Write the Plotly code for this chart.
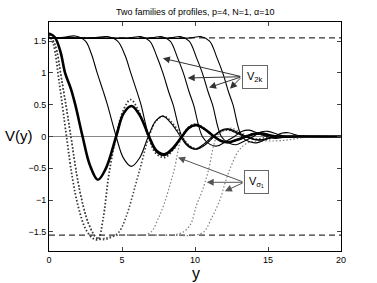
import plotly.graph_objects as go

# ---------------- data ----------------
PLATEAU = 1.55
X_RANGE = [0, 20]

# thick solid profile (V_0)
s0_x = [0, 0.4, 0.8, 1.1, 1.5, 1.8, 2.3, 2.8, 3.35, 3.9, 4.6, 5.1, 5.65, 6.2, 6.85, 7.35, 7.9, 8.5, 9.1, 9.6,
        10.1, 10.7, 11.3, 11.8, 12.3, 12.9, 13.5, 14.0, 14.5, 15.1, 15.7, 17, 20]
s0_v = [1.62, 1.56, 1.32, 1.0, 0.75, 0.5, 0.0, -0.45, -0.68, -0.5, 0.0, 0.36, 0.48, 0.34, 0.0, -0.22, -0.28, -0.18, 0.0, 0.14,
        0.18, 0.11, 0.0, -0.07, -0.09, -0.05, 0.0, 0.04, 0.05, 0.02, 0.0, 0.0, 0.0]

# thin solid profiles V_2k
sA_x = [0, 1.0, 1.8, 2.5, 2.9, 3.3, 3.7, 4.0, 4.6, 5.1, 5.65, 6.2, 6.8, 7.3, 7.8, 8.4, 9.0, 9.5, 10.0, 10.6,
        11.2, 11.7, 12.2, 12.8, 13.4, 13.9, 14.4, 15.0, 15.6, 17, 20]
sA_v = [1.55, 1.56, 1.58, 1.5, 1.3, 1.0, 0.72, 0.5, 0.0, -0.34, -0.47, -0.34, 0.0, 0.24, 0.32, 0.2, 0.0, -0.15, -0.2, -0.12,
        0.0, 0.08, 0.11, 0.06, 0.0, -0.04, -0.06, -0.03, 0.0, 0.0, 0.0]

sB_x = [0, 3.0, 4.0, 4.7, 5.2, 5.6, 6.0, 6.3, 6.85, 7.35, 7.9, 8.5, 9.1, 9.6, 10.1, 10.7, 11.3, 11.8, 12.3, 12.9,
        13.5, 14.0, 14.5, 15.2, 16, 20]
sB_v = [1.55, 1.55, 1.57, 1.5, 1.28, 1.0, 0.72, 0.5, 0.0, -0.24, -0.3, -0.2, 0.0, 0.13, 0.17, 0.1, 0.0, -0.07, -0.09, -0.05,
        0.0, 0.03, 0.04, 0.02, 0.0, 0.0]

sC_x = [0, 5.5, 6.3, 6.9, 7.4, 7.8, 8.2, 8.5, 9.1, 9.6, 10.1, 10.7, 11.3, 11.8, 12.3, 12.9, 13.5, 14.0, 14.5, 15.2, 16, 20]
sC_v = [1.55, 1.55, 1.57, 1.5, 1.25, 1.0, 0.7, 0.5, 0.0, -0.15, -0.2, -0.13, 0.0, 0.1, 0.12, 0.07, 0.0, -0.04, -0.05, -0.02, 0.0, 0.0]

sD_x = [0, 7.0, 7.7, 8.3, 8.8, 9.2, 9.6, 9.9, 10.5, 11.0, 11.5, 12.1, 12.7, 13.2, 13.7, 14.3, 14.9, 15.5, 16.2, 17, 20]
sD_v = [1.55, 1.55, 1.57, 1.5, 1.24, 1.0, 0.7, 0.5, 0.0, -0.12, -0.15, -0.08, 0.0, 0.08, 0.1, 0.05, 0.0, -0.03, -0.01, 0.0, 0.0]

sE_x = [0, 8.3, 9.0, 9.6, 10.1, 10.5, 10.9, 11.2, 11.8, 12.3, 12.8, 13.4, 14.0, 14.5, 15.0, 15.6, 16.2, 17, 20]
sE_v = [1.55, 1.55, 1.57, 1.5, 1.24, 1.0, 0.7, 0.5, 0.0, -0.1, -0.13, -0.07, 0.0, 0.07, 0.08, 0.04, 0.0, 0.0, 0.0]

sF_x = [0, 9.7, 10.4, 11.0, 11.5, 11.9, 12.3, 12.6, 13.2, 13.7, 14.2, 14.8, 15.4, 15.9, 16.4, 17.0, 18, 20]
sF_v = [1.55, 1.55, 1.57, 1.5, 1.24, 1.0, 0.7, 0.5, 0.0, -0.08, -0.1, -0.05, 0.0, 0.05, 0.06, 0.02, 0.0, 0.0]

# dotted profiles V_sigma
d0_x = [0, 0.3, 0.7, 1.2, 1.6, 2.0, 2.5, 3.0, 3.35, 3.7, 4.1, 4.6, 5.1, 5.6, 6.1, 6.8, 7.3, 7.9, 8.5, 9.1,
        9.6, 10.1, 10.7, 11.3, 11.8, 12.3, 12.9, 13.5, 14.2, 15, 16, 20]
d0_v = [1.6, 1.45, 0.85, 0.0, -0.65, -1.1, -1.45, -1.6, -1.62, -1.3, -0.6, 0.0, 0.42, 0.58, 0.42, 0.0, -0.26, -0.33, -0.21, 0.0,
        0.15, 0.19, 0.11, 0.0, -0.07, -0.09, -0.05, 0.0, 0.04, 0.01, 0.0, 0.0]

d1_x = [0, 0.4, 0.9, 1.5, 1.9, 2.3, 2.8, 3.3, 3.8, 4.3, 4.8, 5.3, 5.7, 6.0, 6.3, 6.85, 7.35, 7.9, 8.5, 9.1,
        9.6, 10.1, 10.7, 11.3, 11.8, 12.3, 12.9, 13.5, 14.2, 15, 16, 20]
d1_v = [1.6, 1.45, 0.85, 0.0, -0.6, -1.05, -1.42, -1.6, -1.62, -1.58, -1.5, -1.25, -0.95, -0.7, -0.45, 0.0, 0.25, 0.32, 0.2, 0.0,
        -0.14, -0.19, -0.12, 0.0, 0.08, 0.1, 0.05, 0.0, -0.04, -0.01, 0.0, 0.0]

d2_x = [0, 0.4, 0.9, 1.5, 1.9, 2.3, 2.8, 3.3, 3.8, 4.5, 5.5, 6.5, 7.0, 7.5, 7.9, 8.3, 8.6, 9.1, 9.6, 10.1,
        10.7, 11.3, 11.8, 12.3, 12.9, 13.5, 14.1, 14.8, 15.5, 16.5, 20]
d2_v = [1.6, 1.45, 0.85, 0.0, -0.6, -1.05, -1.42, -1.6, -1.6, -1.56, -1.55, -1.55, -1.5, -1.28, -1.05, -0.75, -0.5, 0.0, 0.16, 0.2,
        0.12, 0.0, -0.08, -0.1, -0.05, 0.0, 0.04, 0.04, 0.0, 0.0, 0.0]

d3_x = [0, 0.4, 0.9, 1.5, 1.9, 2.3, 2.8, 3.3, 3.8, 4.5, 6, 8, 8.7, 9.2, 9.7, 10.1, 10.5, 10.9, 11.5, 12.0,
        12.5, 13.1, 13.7, 14.2, 14.7, 15.3, 16, 17, 20]
d3_v = [1.6, 1.45, 0.85, 0.0, -0.6, -1.05, -1.42, -1.6, -1.6, -1.56, -1.55, -1.55, -1.54, -1.5, -1.38, -1.08, -0.85, -0.55, 0.0, 0.1,
        0.13, 0.07, 0.0, -0.05, -0.06, -0.03, 0.0, 0.0, 0.0]

d4_x = [0, 0.4, 0.9, 1.5, 1.9, 2.3, 2.8, 3.3, 3.8, 4.5, 6, 8, 10, 10.6, 11.1, 11.7, 12.1, 12.5, 13.0, 13.6,
        14.3, 15.5, 16.5, 17.3, 18, 20]
d4_v = [1.6, 1.45, 0.85, 0.0, -0.6, -1.05, -1.42, -1.6, -1.6, -1.56, -1.55, -1.55, -1.55, -1.5, -1.3, -1.0, -0.7, -0.45, -0.22, -0.1,
        -0.07, -0.07, -0.05, -0.02, 0.0, 0.0]

x_ticks = [0, 5, 10, 15, 20]
y_ticks = [-1.5, -1, -0.5, 0, 0.5, 1, 1.5]
y_tick_labels = ["\u22121.5", "\u22121", "\u22120.5", "0", "0.5", "1", "1.5"]

title_text = "Two families of profiles, p=4, N=1, \u03b1=10"

# ---------------- figure ----------------
FONT = "Liberation Sans, Arial, sans-serif"
fig = go.Figure()

# dashed asymptotes and zero line
fig.add_trace(go.Scatter(x=X_RANGE, y=[PLATEAU, PLATEAU], mode="lines",
                         line=dict(color="black", width=1, dash="6px,4px"), hoverinfo="skip"))
fig.add_trace(go.Scatter(x=X_RANGE, y=[-PLATEAU, -PLATEAU], mode="lines",
                         line=dict(color="black", width=1, dash="6px,4px"), hoverinfo="skip"))
fig.add_trace(go.Scatter(x=X_RANGE, y=[0, 0], mode="lines",
                         line=dict(color="#888888", width=1), hoverinfo="skip"))

# dotted family
for xs, vs, col, w in [(d4_x, d4_v, "#808080", 1.2), (d3_x, d3_v, "#808080", 1.2),
                       (d2_x, d2_v, "#808080", 1.2), (d1_x, d1_v, "#444444", 1.6),
                       (d0_x, d0_v, "#333333", 1.8)]:
    fig.add_trace(go.Scatter(x=xs, y=vs, mode="lines", line_shape="spline",
                             line=dict(color=col, width=w, dash="1.5px,2px"), hoverinfo="skip"))

# solid family
for xs, vs in [(sF_x, sF_v), (sE_x, sE_v), (sD_x, sD_v), (sC_x, sC_v), (sB_x, sB_v), (sA_x, sA_v)]:
    fig.add_trace(go.Scatter(x=xs, y=vs, mode="lines", line_shape="spline",
                             line=dict(color="black", width=1.1), hoverinfo="skip"))
fig.add_trace(go.Scatter(x=s0_x, y=s0_v, mode="lines", line_shape="spline",
                         line=dict(color="black", width=2.6), hoverinfo="skip"))

annotations = []
# V_2k arrows
for tx, ty in [(7.8, 1.23), (9.5, 0.92), (10.96, 0.77), (12.4, 0.75)]:
    annotations.append(dict(x=tx, y=ty, ax=13.2, ay=0.94, xref="x", yref="y", axref="x", ayref="y",
                            text="", showarrow=True, arrowhead=2, arrowsize=1.4, arrowwidth=1,
                            arrowcolor="#333333"))
# V_sigma arrows
for tx, ty in [(8.84, -0.33), (10.8, -0.72), (12.05, -0.86)]:
    annotations.append(dict(x=tx, y=ty, ax=13.36, ay=-0.72, xref="x", yref="y", axref="x", ayref="y",
                            text="", showarrow=True, arrowhead=2, arrowsize=1.4, arrowwidth=1,
                            arrowcolor="#555555"))
# label boxes
annotations.append(dict(x=14.1, y=0.94, xref="x", yref="y", text="V<sub>2k</sub>", showarrow=False,
                        font=dict(family=FONT, size=11, color="black"), bgcolor="white",
                        bordercolor="#666666", borderwidth=1, borderpad=4))
annotations.append(dict(x=14.2, y=-0.72, xref="x", yref="y", text="V<sub>\u03c3\u2081</sub>", showarrow=False,
                        font=dict(family=FONT, size=11, color="black"), bgcolor="white",
                        bordercolor="#666666", borderwidth=1, borderpad=4))

W, H = 377, 283
L, R, T, B = 49, 36, 22, 32
PW, PH = W - L - R, H - T - B

def paper_x(px):
    return (px - L) / PW

def paper_y(py):
    return (H - B - py) / PH

# axis labels (MATLAB style, horizontal) and title
annotations.append(dict(x=paper_x(18.5), y=paper_y(135), xref="paper", yref="paper", text="V(y)",
                        showarrow=False, xanchor="center", yanchor="middle",
                        font=dict(family=FONT, size=15, color="black")))
annotations.append(dict(x=paper_x(196), y=paper_y(273), xref="paper", yref="paper", text="y",
                        showarrow=False, xanchor="center", yanchor="middle",
                        font=dict(family=FONT, size=16, color="black")))
annotations.append(dict(x=paper_x(195), y=paper_y(12), xref="paper", yref="paper", text=title_text,
                        showarrow=False, xanchor="center", yanchor="middle",
                        font=dict(family=FONT, size=9, color="black")))

fig.update_layout(
    width=W, height=H,
    margin=dict(l=L, r=R, t=T, b=B),
    paper_bgcolor="white", plot_bgcolor="white",
    showlegend=False,
    annotations=annotations,
    font=dict(family=FONT, size=9, color="black"),
)
fig.update_xaxes(range=[0, 20], tickvals=x_ticks, ticks="inside", ticklen=4, showline=True,
                 linecolor="black", linewidth=1, mirror="ticks", showgrid=False, zeroline=False,
                 tickfont=dict(family=FONT, size=9, color="black"))
fig.update_yaxes(range=[-1.8, 1.8], tickvals=y_ticks, ticktext=y_tick_labels, ticks="inside", ticklen=4,
                 showline=True, linecolor="black", linewidth=1, mirror="ticks", showgrid=False,
                 zeroline=False, tickfont=dict(family=FONT, size=9, color="black"))

# remove the browser's default 8px body margin so the figure fills the window
fig.write_html("out.html", config={"displayModeBar": False},
               post_script="document.body.style.margin='0';document.body.style.overflow='hidden';")
